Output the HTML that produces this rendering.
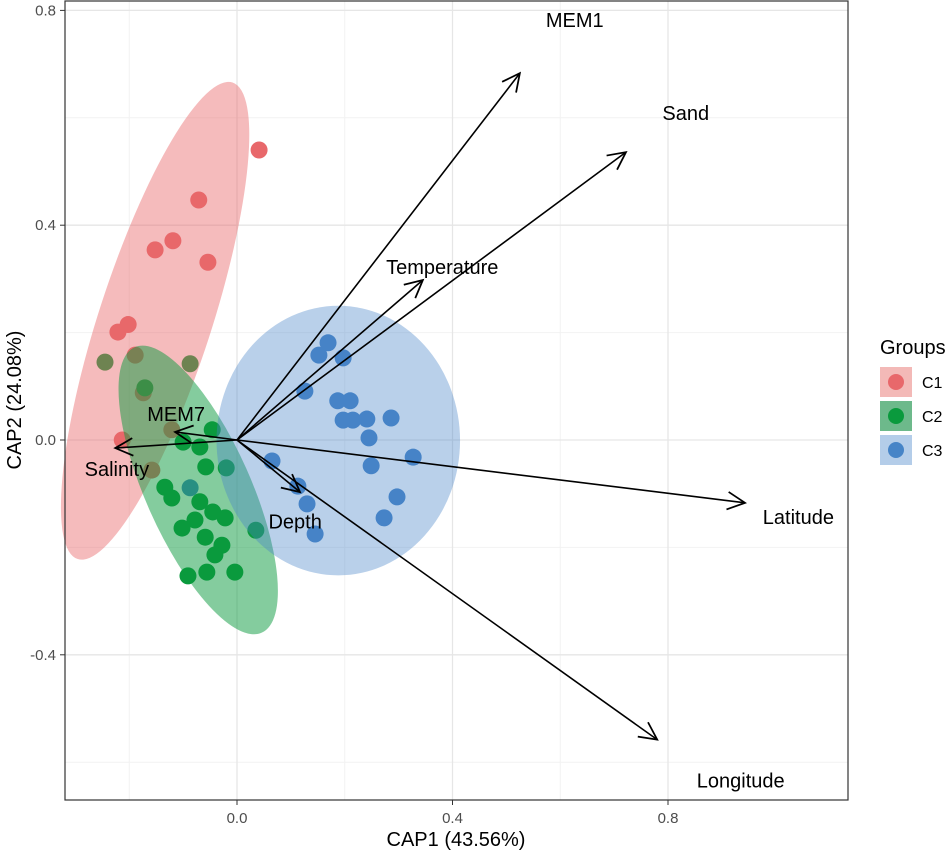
<!DOCTYPE html>
<html><head><meta charset="utf-8"><style>
body{margin:0;background:#fff;}
svg{display:block;font-family:"Liberation Sans",Arial,sans-serif;}
</style></head><body>
<svg id="chart" width="948" height="851" viewBox="0 0 948 851">
<defs>
<marker id="ah" viewBox="0 0 20 20" refX="18" refY="10" markerWidth="22" markerHeight="22" markerUnits="userSpaceOnUse" orient="auto">
<path d="M2,2 L18,10 L2,18" fill="none" stroke="#000" stroke-width="1.6"/>
</marker>
</defs>
<g id="grid"></g>
<g id="points"></g>
<g id="ellipses"></g>
<g id="arrows"></g>
<rect x="65" y="1" width="783" height="799" fill="none" stroke="#333" stroke-width="1.2"/>
<g id="ticks"></g>
<text x="456" y="846" font-size="20" text-anchor="middle" fill="#000">CAP1 (43.56%)</text>
<text x="0" y="0" font-size="20" text-anchor="middle" fill="#000" transform="translate(21,400) rotate(-90)">CAP2 (24.08%)</text>
<g>
<text x="880" y="354" font-size="20" fill="#000">Groups</text>
<g><rect x="880" y="367" width="32" height="30" fill="#f3b9b7"/><circle cx="896" cy="382" r="8" fill="#e8686b"/><text x="922" y="388" font-size="16">C1</text></g>
<g><rect x="880" y="401" width="32" height="30" fill="#6db98b"/><circle cx="896" cy="416" r="8" fill="#0a9a3d"/><text x="922" y="422" font-size="16">C2</text></g>
<g><rect x="880" y="435" width="32" height="30" fill="#b4cde9"/><circle cx="896" cy="450" r="8" fill="#4684c7"/><text x="922" y="456" font-size="16">C3</text></g>
</g>
</svg>
<script>
const c1x=[0.041,-0.071,-0.119,-0.152,-0.054,-0.202,-0.221,-0.189,-0.213,-0.158,-0.174,-0.121];
const c1y=[0.540,0.447,0.371,0.354,0.331,0.215,0.201,0.158,0.000,-0.056,0.088,0.019];
const c2x=[-0.245,-0.087,-0.171,-0.046,-0.100,-0.069,-0.058,-0.020,-0.134,-0.121,-0.069,-0.045,-0.022,-0.078,-0.102,-0.059,-0.028,-0.041,-0.091,-0.056,-0.004,0.035];
const c2y=[0.145,0.142,0.097,0.019,-0.004,-0.013,-0.050,-0.052,-0.088,-0.108,-0.115,-0.134,-0.145,-0.149,-0.164,-0.181,-0.196,-0.214,-0.253,-0.246,-0.246,-0.168];
const c3x=[0.169,0.152,0.197,0.126,0.187,0.210,0.197,0.215,0.241,0.286,0.245,0.327,0.249,0.065,0.113,0.130,0.297,0.273,0.145,-0.087];
const c3y=[0.181,0.158,0.153,0.091,0.073,0.073,0.037,0.037,0.039,0.041,0.004,-0.032,-0.048,-0.039,-0.086,-0.119,-0.106,-0.145,-0.175,-0.089];
const vecNames=["MEM1","Sand","Temperature","MEM7","Salinity","Depth","Latitude","Longitude"];
const vecX=[0.525,0.722,0.345,-0.115,-0.226,0.117,0.943,0.780];
const vecY=[0.683,0.536,0.298,0.015,-0.015,-0.097,-0.117,-0.558];
const labX=[0.627,0.833,0.381,-0.113,-0.223,0.108,1.042,0.935];
const labY=[0.782,0.609,0.322,0.048,-0.054,-0.152,-0.143,-0.634];
const xTicks=[0.0,0.4,0.8];
const yTicks=[-0.4,0.0,0.4,0.8];
const xMinor=[-0.2,0.2,0.6];
const yMinor=[-0.6,-0.2,0.2,0.6];
const ellCx=[-0.152,-0.072,0.188], ellCy=[0.222,-0.093,-0.001];
const ellA=[0.465,0.29,0.226], ellB=[0.105,0.098,0.251], ellRot=[-72,-114,0];

const X=v=>237+v*538.75, Y=v=>440-v*537;
const NS="http://www.w3.org/2000/svg";
function mk(t,a,p){const e=document.createElementNS(NS,t);for(const k in a)e.setAttribute(k,a[k]);p.appendChild(e);return e;}
const grid=document.getElementById('grid');
xMinor.forEach(v=>{const l=mk('line',{x1:X(v),x2:X(v),y1:1,y2:800,stroke:'#f2f2f2','stroke-width':1},grid);});
yMinor.forEach(v=>{const l=mk('line',{x1:65,x2:848,y1:Y(v),y2:Y(v),stroke:'#f2f2f2','stroke-width':1},grid);});
const tk=document.getElementById('ticks');
xTicks.forEach(v=>{const l=mk('line',{x1:X(v),x2:X(v),y1:1,y2:800,stroke:'#e6e6e6','stroke-width':1.3},grid);
 const t=mk('line',{x1:X(v),x2:X(v),y1:800,y2:805,stroke:'#333'},tk);
 const s=mk('text',{x:X(v),y:823,'font-size':15,'text-anchor':'middle',fill:'#4d4d4d'},tk);s.textContent=v.toFixed(1);});
yTicks.forEach(v=>{const l=mk('line',{x1:65,x2:848,y1:Y(v),y2:Y(v),stroke:'#e6e6e6','stroke-width':1.3},grid);
 const t=mk('line',{x1:60,x2:65,y1:Y(v),y2:Y(v),stroke:'#333'},tk);
 const s=mk('text',{x:56,y:Y(v)+5,'font-size':15,'text-anchor':'end',fill:'#4d4d4d'},tk);s.textContent=v.toFixed(1);});
const pts=document.getElementById('points');
[[c1x,c1y,'#e8686b','c1'],[c2x,c2y,'#0a9a3d','c2'],[c3x,c3y,'#4684c7','c3']].forEach(([xs,ys,col,g])=>{
 xs.forEach((v,i)=>{const c=mk('circle',{cx:X(v),cy:Y(ys[i]),r:8.5,fill:col},pts);
  
  });});
const el=document.getElementById('ellipses');
const ecol=['#e8686b','#0a9a3d','#4684c7'], eop=[0.45,0.5,0.38];
ellCx.forEach((v,i)=>{const e=mk('ellipse',{cx:X(v),cy:Y(ellCy[i]),rx:ellA[i]*538.75,ry:ellB[i]*537,fill:ecol[i],'fill-opacity':eop[i],transform:`rotate(${ellRot[i]} ${X(v)} ${Y(ellCy[i])})`},el);
 
 });
const ar=document.getElementById('arrows');
vecNames.forEach((n,i)=>{const l=mk('line',{x1:X(0),y1:Y(0),x2:X(vecX[i]),y2:Y(vecY[i]),stroke:'#000','stroke-width':1.6,'marker-end':'url(#ah)'},ar);
 
 
 const t=mk('text',{x:X(labX[i]),y:Y(labY[i])+7,'font-size':20,'text-anchor':'middle',fill:'#000'},ar);t.textContent=n;
 
 });
</script>
</body></html>
